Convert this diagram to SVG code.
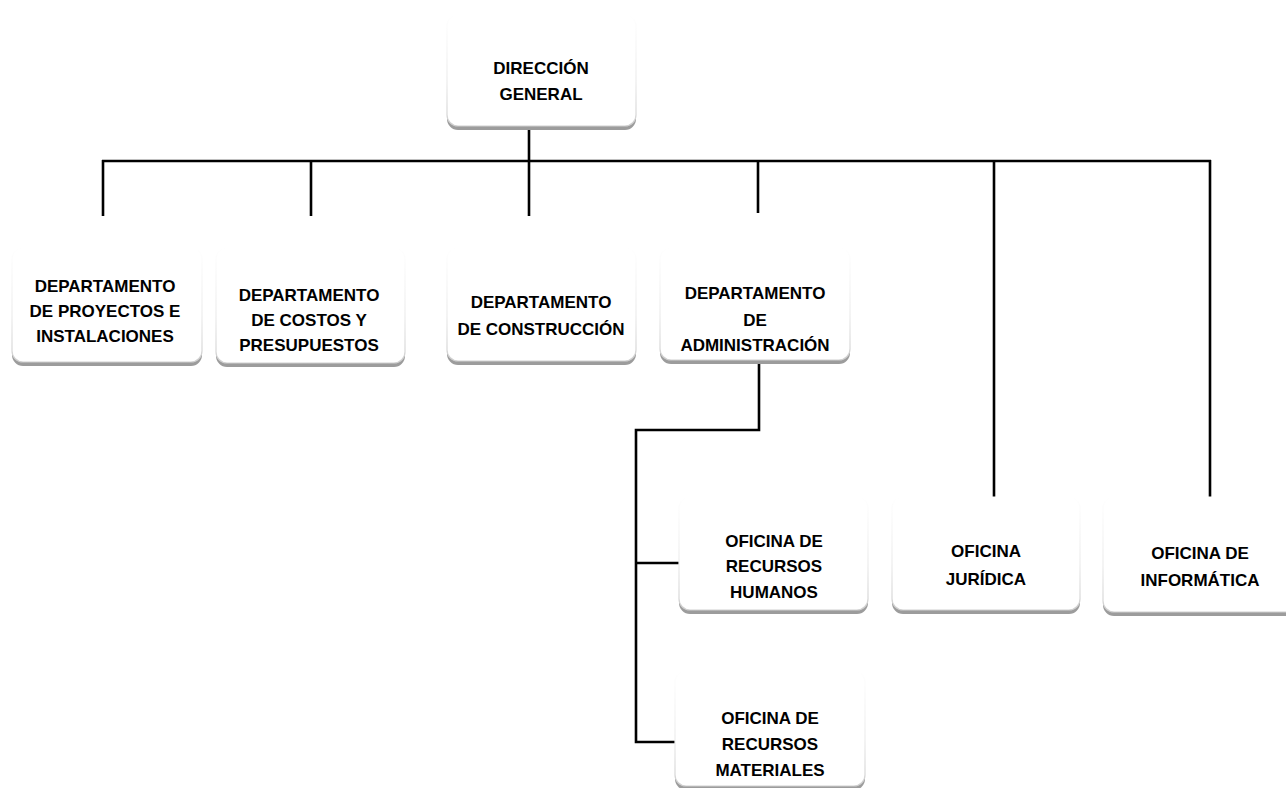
<svg xmlns="http://www.w3.org/2000/svg" width="1286" height="788" viewBox="0 0 1286 788">
<defs>
<linearGradient id="edge" x1="0" y1="0" x2="0" y2="1">
<stop offset="0" stop-color="#ffffff"/>
<stop offset="0.6" stop-color="#ececec"/>
<stop offset="1" stop-color="#cfcfcf"/>
</linearGradient>
</defs>
<style>
.sh{fill:#9c9c9c}
.bx{fill:#ffffff;stroke:url(#edge);stroke-width:1.2}
.t{font-family:"Liberation Sans",Arial,sans-serif;font-weight:bold;font-size:17px;fill:#000;text-anchor:middle;dominant-baseline:central}
.ln{stroke:#000;stroke-width:2.6;fill:none}
</style>
<rect width="1286" height="788" fill="#ffffff"/>
<g id="connectors">
<line class="ln" x1="102" y1="161" x2="1211" y2="161"/>
<line class="ln" x1="529" y1="126" x2="529" y2="216"/>
<line class="ln" x1="103" y1="160" x2="103" y2="216"/>
<line class="ln" x1="311" y1="161" x2="311" y2="216"/>
<line class="ln" x1="758" y1="161" x2="758" y2="213"/>
<line class="ln" x1="994" y1="161" x2="994" y2="500"/>
<line class="ln" x1="1210" y1="160" x2="1210" y2="497"/>
<polyline class="ln" points="759,360 759,430 636,430 636,742 680,742"/>
<line class="ln" x1="636" y1="563" x2="681" y2="563"/>
</g>
<g id="direccion-general">
<rect class="sh" x="447" y="19" width="189" height="111" rx="11"/>
<rect class="bx" x="447" y="15" width="189" height="111" rx="11"/>
<text class="t" x="541" y="68">DIRECCIÓN</text>
<text class="t" x="541" y="94">GENERAL</text>
</g>
<g id="dep-proyectos">
<rect class="sh" x="12" y="252" width="190" height="114" rx="11"/>
<rect class="bx" x="12" y="248" width="190" height="114" rx="11"/>
<text class="t" x="105" y="286">DEPARTAMENTO</text>
<text class="t" x="105" y="311">DE PROYECTOS E</text>
<text class="t" x="105" y="336">INSTALACIONES</text>
</g>
<g id="dep-costos">
<rect class="sh" x="216" y="252" width="189" height="115" rx="11"/>
<rect class="bx" x="216" y="248" width="189" height="115" rx="11"/>
<text class="t" x="309" y="295">DEPARTAMENTO</text>
<text class="t" x="309" y="320">DE COSTOS Y</text>
<text class="t" x="309" y="345">PRESUPUESTOS</text>
</g>
<g id="dep-construccion">
<rect class="sh" x="447" y="252" width="189" height="113" rx="11"/>
<rect class="bx" x="447" y="248" width="189" height="113" rx="11"/>
<text class="t" x="541" y="302">DEPARTAMENTO</text>
<text class="t" x="541" y="329">DE CONSTRUCCIÓN</text>
</g>
<g id="dep-administracion">
<rect class="sh" x="660" y="252" width="190" height="112" rx="11"/>
<rect class="bx" x="660" y="248" width="190" height="112" rx="11"/>
<text class="t" x="755" y="293">DEPARTAMENTO</text>
<text class="t" x="755" y="320">DE</text>
<text class="t" x="755" y="345">ADMINISTRACIÓN</text>
</g>
<g id="of-rrhh">
<rect class="sh" x="679" y="501" width="189" height="113" rx="11"/>
<rect class="bx" x="679" y="497" width="189" height="113" rx="11"/>
<text class="t" x="774" y="541">OFICINA DE</text>
<text class="t" x="774" y="566">RECURSOS</text>
<text class="t" x="774" y="592">HUMANOS</text>
</g>
<g id="of-juridica">
<rect class="sh" x="892" y="501" width="188" height="113" rx="11"/>
<rect class="bx" x="892" y="497" width="188" height="113" rx="11"/>
<text class="t" x="986" y="551">OFICINA</text>
<text class="t" x="986" y="579">JURÍDICA</text>
</g>
<g id="of-informatica">
<rect class="sh" x="1103" y="501" width="194" height="115" rx="11"/>
<rect class="bx" x="1103" y="497" width="194" height="115" rx="11"/>
<text class="t" x="1200" y="553">OFICINA DE</text>
<text class="t" x="1200" y="580">INFORMÁTICA</text>
</g>
<g id="of-rrmm">
<rect class="sh" x="675" y="675" width="190" height="115" rx="11"/>
<rect class="bx" x="675" y="671" width="190" height="115" rx="11"/>
<text class="t" x="770" y="718">OFICINA DE</text>
<text class="t" x="770" y="744">RECURSOS</text>
<text class="t" x="770" y="770">MATERIALES</text>
</g>
</svg>
